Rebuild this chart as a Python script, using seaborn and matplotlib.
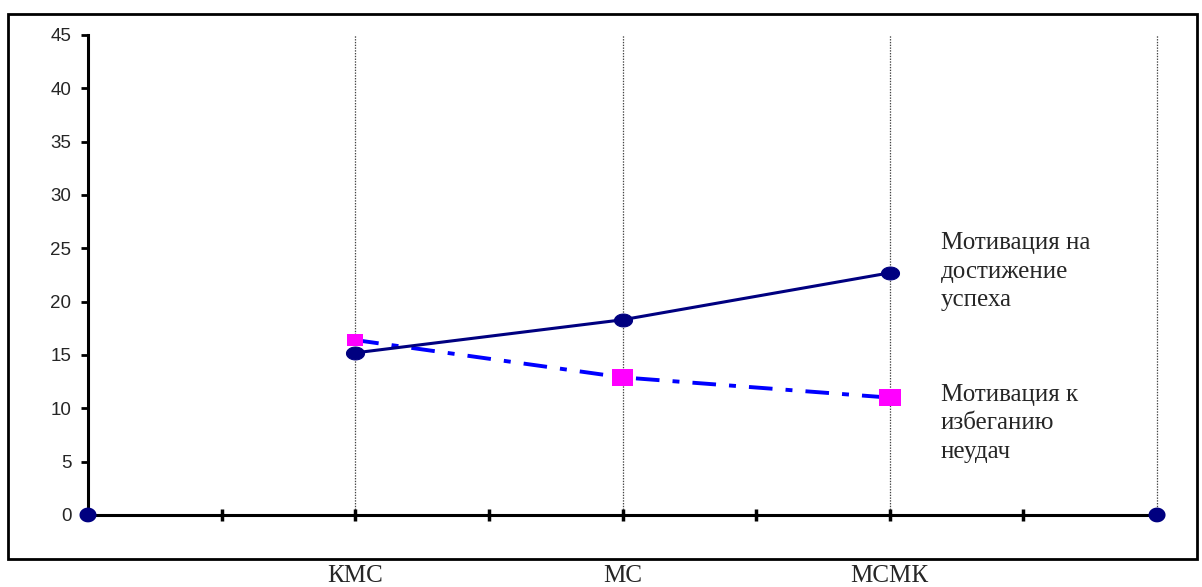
import matplotlib
matplotlib.use("Agg")
import matplotlib.pyplot as plt
import matplotlib.patches as mpatches
from matplotlib.path import Path
import numpy as np
import pandas as pd
import seaborn as sns

# Data
categories = ["КМС", "МС", "МСМК"]
cat_pos = [1, 2, 3]
achievement = [15.2, 18.3, 22.7]
avoidance = [16.4, 12.9, 11.0]
avoid_marker_sizes = [130, 250, 250]
end_pos = [0, 4]
end_vals = [0, 0]
label_achievement = "Мотивация на\nдостижение\nуспеха"
label_avoidance = "Мотивация к\nизбеганию\nнеудач"

sns.set_theme(style="white")
plt.rcParams["font.family"] = ["Liberation Sans", "DejaVu Sans"]
plt.rcParams["lines.scale_dashes"] = False

fig = plt.figure(figsize=(12.02, 5.87), dpi=100)
ax = fig.add_axes([0.0732, 0.1227, 0.8894, 0.8177])

# wide ellipse and wide rectangle markers
t = np.linspace(0, 2 * np.pi, 60)
ellipse = Path(np.column_stack([1.4 * np.cos(t), np.sin(t)]), closed=True)
ellipse_end = Path(np.column_stack([1.15 * np.cos(t), np.sin(t)]), closed=True)
rect = Path([(-1.3, -1), (1.3, -1), (1.3, 1), (-1.3, 1), (-1.3, -1)],
            closed=True)

df_a = pd.DataFrame({"x": cat_pos, "y": achievement})
df_b = pd.DataFrame({"x": cat_pos, "y": avoidance, "s": avoid_marker_sizes})
df_end = pd.DataFrame({"x": end_pos, "y": end_vals})

# vertical dotted grid at category positions
for xv in [1, 2, 3, 4]:
    ax.axvline(xv, color="#444444", lw=0.9, ls=(0, (1, 1)), zorder=0,
               clip_on=False)

sns.lineplot(data=df_a, x="x", y="y", ax=ax, color="#000080", lw=2.2,
             marker=ellipse, markersize=13, markeredgecolor="#000080",
             markerfacecolor="#000080", zorder=4)

sns.lineplot(data=df_b, x="x", y="y", ax=ax, color="#0000FF", lw=2.8,
             zorder=3)
ax.lines[-1].set_dashes([17, 9.4, 5, 9.4])
sns.scatterplot(data=df_b, x="x", y="y", ax=ax, size="s", sizes=(130, 250),
                marker=rect, color="#FF00FF", edgecolor="none", legend=False,
                zorder=5)

sns.scatterplot(data=df_end, x="x", y="y", ax=ax, marker=ellipse_end, s=150,
                color="#000080", edgecolor="none", legend=False, zorder=6,
                clip_on=False)

ax.set_xlim(0, 4)
ax.set_ylim(0, 45)
ax.set_yticks(range(0, 46, 5))
ax.set_yticklabels([str(v) for v in range(0, 46, 5)], fontsize=13.5)
ax.set_xticks([0.5, 1, 1.5, 2, 2.5, 3, 3.5])
ax.set_xticklabels([])
ax.set_xlabel("")
ax.set_ylabel("")

for side in ["top", "right"]:
    ax.spines[side].set_visible(False)
for side in ["left", "bottom"]:
    ax.spines[side].set_linewidth(2.2)
    ax.spines[side].set_color("black")
ax.tick_params(axis="y", direction="out", length=5, width=2, color="black",
               pad=7, left=True)
ax.tick_params(axis="x", direction="inout", length=9, width=2.5,
               color="black", bottom=True)

serif = ["Liberation Serif", "DejaVu Serif"]

# category labels below the frame
for xv, lab in zip(cat_pos, categories):
    ax.text(xv, -0.128, lab, transform=ax.get_xaxis_transform(),
            ha="center", va="center", fontsize=18, family=serif,
            clip_on=False)

# series labels
ax.text(3.19, 26.5, label_achievement, ha="left", va="top", fontsize=18,
        family=serif, linespacing=1.38)
ax.text(3.19, 12.3, label_avoidance, ha="left", va="top", fontsize=18,
        family=serif, linespacing=1.38)

# outer frame
frame = mpatches.Rectangle((0.0067, 0.0477), 0.9891, 0.9283,
                           transform=fig.transFigure, fill=False,
                           edgecolor="black", lw=2, zorder=0)
fig.patches.append(frame)

fig.savefig("out.png", dpi=100)
